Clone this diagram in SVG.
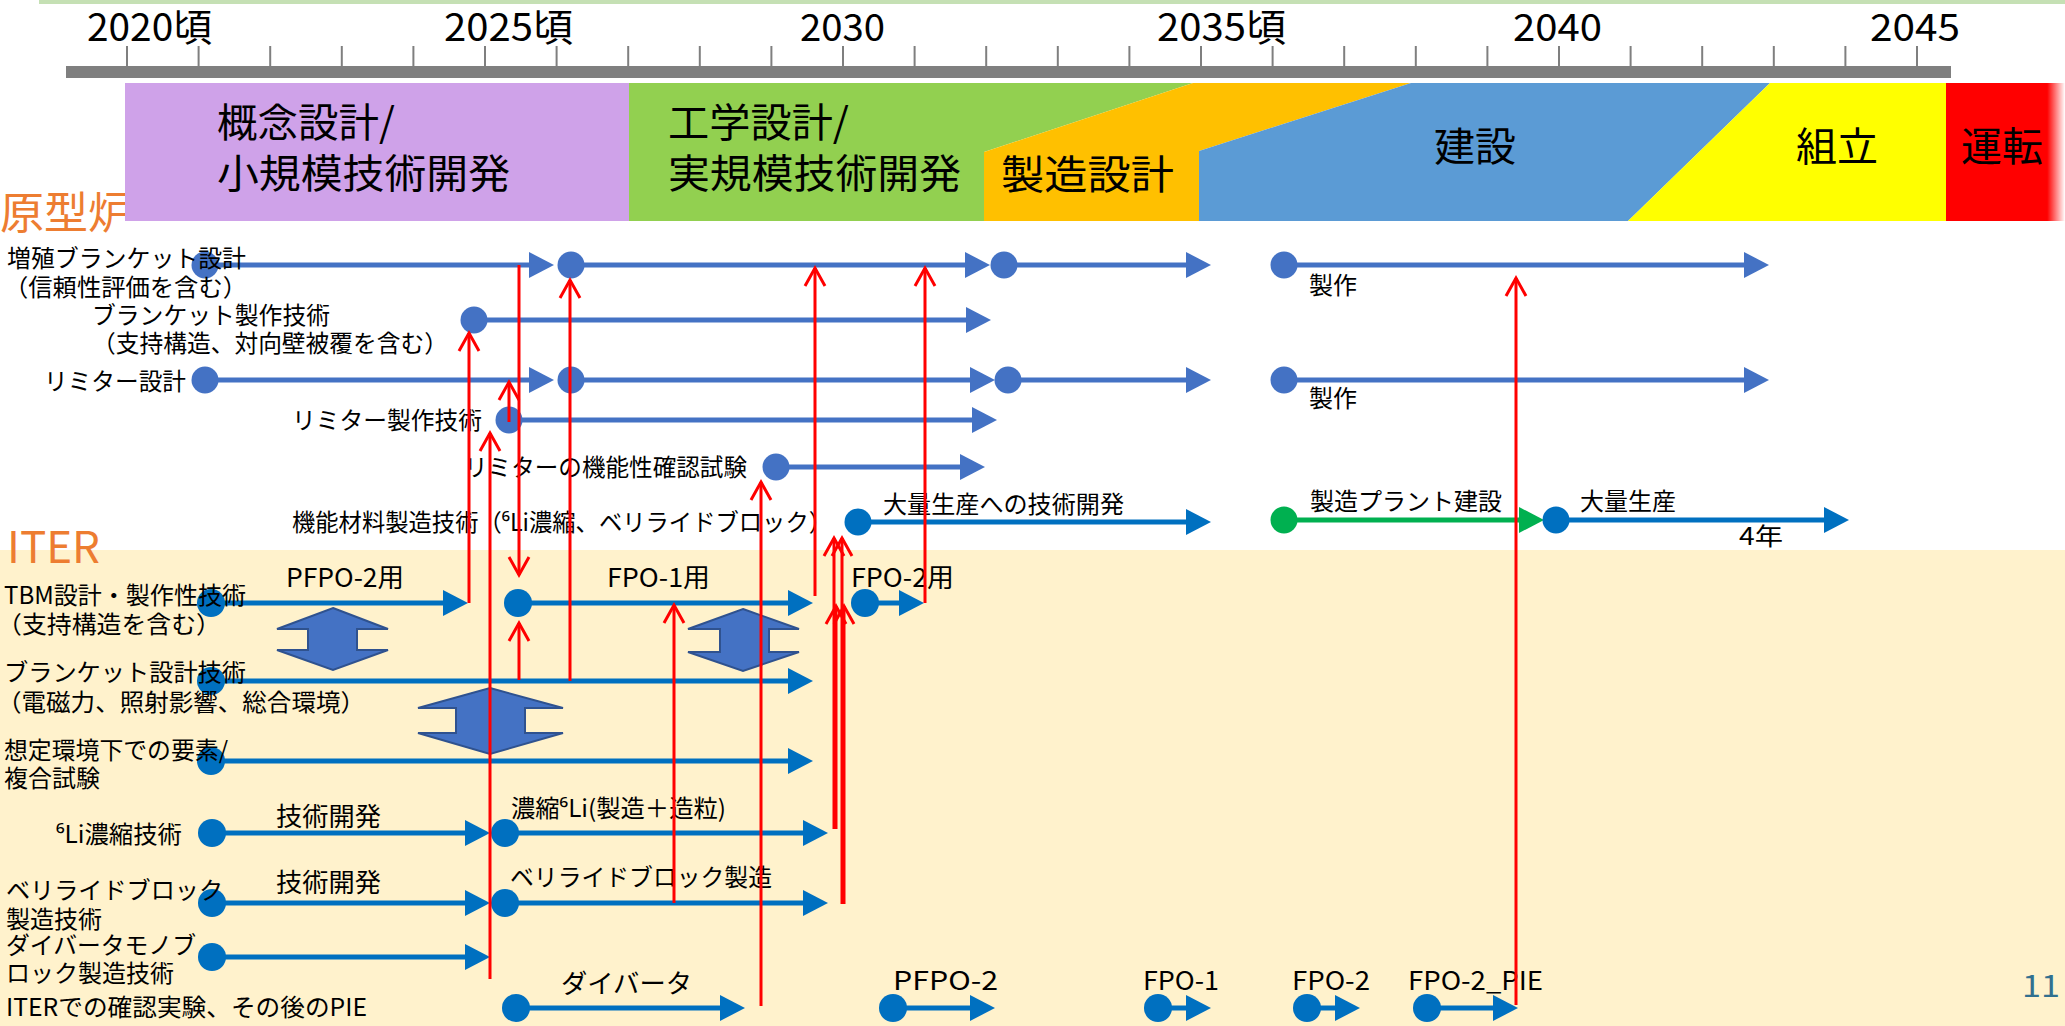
<svg xmlns="http://www.w3.org/2000/svg" width="2065" height="1026" viewBox="0 0 2065 1026">
<style>
text{font-family:"Noto Sans CJK JP","Noto Sans",sans-serif;fill:#000}
.s24{font-size:24px}
.s26{font-size:26px}
.s40{font-size:40px}
.yr{font-size:38px}
.org{fill:#ed7d31;font-size:44px}
.lu{stroke:#4472c4;stroke-width:5;fill:none;marker-end:url(#au)}
.li{stroke:#0070c0;stroke-width:5;fill:none;marker-end:url(#ai)}
.lg{stroke:#00b050;stroke-width:5;fill:none;marker-end:url(#ag)}
.du{fill:#4472c4}
.di{fill:#0070c0}
.dg{fill:#00b050}
.red{stroke:#ff0000;stroke-width:3;fill:none;marker-end:url(#ar)}
.dbl{fill:#4472c4;stroke:#2f528f;stroke-width:2}
.tick{stroke:#7f7f7f;stroke-width:2}
</style>
<defs>
<marker id="au" markerUnits="userSpaceOnUse" viewBox="0 -13 26 26" markerWidth="26" markerHeight="26" refX="0" refY="0" orient="auto"><path d="M0,-13 L25,0 L0,13 z" fill="#4472c4"/></marker>
<marker id="ai" markerUnits="userSpaceOnUse" viewBox="0 -13 26 26" markerWidth="26" markerHeight="26" refX="0" refY="0" orient="auto"><path d="M0,-13 L25,0 L0,13 z" fill="#0070c0"/></marker>
<marker id="ag" markerUnits="userSpaceOnUse" viewBox="0 -13 26 26" markerWidth="26" markerHeight="26" refX="0" refY="0" orient="auto"><path d="M0,-13 L25,0 L0,13 z" fill="#00b050"/></marker>
<marker id="ar" markerUnits="userSpaceOnUse" viewBox="-22 -13 26 26" markerWidth="26" markerHeight="26" refX="0" refY="0" orient="auto"><path d="M-18,-10 L0,0 L-18,10" fill="none" stroke="#ff0000" stroke-width="3"/></marker>
<linearGradient id="redfade" x1="0" x2="1" y1="0" y2="0"><stop offset="0.85" stop-color="#ff0000"/><stop offset="1" stop-color="#ff0000" stop-opacity="0"/></linearGradient>
</defs>

<rect x="0" y="0" width="2065" height="1026" fill="#ffffff"/>
<rect x="0" y="550" width="2065" height="476" fill="#fff2cc"/>
<rect x="39" y="0" width="2026" height="4" fill="#c5e0b4"/>

<g id="timeline">
<rect x="66" y="66" width="1885" height="12" fill="#7f7f7f"/>
<g class="tick">
<line x1="127" y1="46" x2="127" y2="66"/><line x1="198.6" y1="46" x2="198.6" y2="66"/><line x1="270.2" y1="46" x2="270.2" y2="66"/><line x1="341.8" y1="46" x2="341.8" y2="66"/><line x1="413.4" y1="46" x2="413.4" y2="66"/>
<line x1="485" y1="46" x2="485" y2="66"/><line x1="556.6" y1="46" x2="556.6" y2="66"/><line x1="628.2" y1="46" x2="628.2" y2="66"/><line x1="699.8" y1="46" x2="699.8" y2="66"/><line x1="771.4" y1="46" x2="771.4" y2="66"/>
<line x1="843" y1="46" x2="843" y2="66"/><line x1="914.6" y1="46" x2="914.6" y2="66"/><line x1="986.2" y1="46" x2="986.2" y2="66"/><line x1="1057.8" y1="46" x2="1057.8" y2="66"/><line x1="1129.4" y1="46" x2="1129.4" y2="66"/>
<line x1="1201" y1="46" x2="1201" y2="66"/><line x1="1272.6" y1="46" x2="1272.6" y2="66"/><line x1="1344.2" y1="46" x2="1344.2" y2="66"/><line x1="1415.8" y1="46" x2="1415.8" y2="66"/><line x1="1487.4" y1="46" x2="1487.4" y2="66"/>
<line x1="1559" y1="46" x2="1559" y2="66"/><line x1="1630.6" y1="46" x2="1630.6" y2="66"/><line x1="1702.2" y1="46" x2="1702.2" y2="66"/><line x1="1773.8" y1="46" x2="1773.8" y2="66"/><line x1="1845.4" y1="46" x2="1845.4" y2="66"/>
<line x1="1917" y1="46" x2="1917" y2="66"/>
</g>
<text class="yr" x="87" y="41" textLength="125" lengthAdjust="spacingAndGlyphs">2020頃</text>
<text class="yr" x="444" y="41" textLength="129" lengthAdjust="spacingAndGlyphs">2025頃</text>
<text class="yr" x="800" y="41" textLength="85" lengthAdjust="spacingAndGlyphs">2030</text>
<text class="yr" x="1157" y="41" textLength="129" lengthAdjust="spacingAndGlyphs">2035頃</text>
<text class="yr" x="1513" y="41" textLength="89" lengthAdjust="spacingAndGlyphs">2040</text>
<text class="yr" x="1870" y="41" textLength="90" lengthAdjust="spacingAndGlyphs">2045</text>
</g>

<text class="org" x="0" y="229">原型炉</text>

<g id="phases">
<rect x="125" y="83" width="504" height="138" fill="#cfa2e9"/>
<polygon points="629,83 1193,83 984,152 984,221 629,221" fill="#92d050"/>
<polygon points="984,152 1193,83 1411,83 1199,151 1199,221 984,221" fill="#ffc000"/>
<polygon points="1199,151 1411,83 1770,83 1628,221 1199,221" fill="#5b9bd5"/>
<polygon points="1770,83 1946,83 1946,221 1628,221" fill="#ffff00"/>
<rect x="1946" y="83" width="119" height="138" fill="url(#redfade)"/>
<text class="s40" x="217" y="137" textLength="178" lengthAdjust="spacingAndGlyphs">概念設計/</text>
<text class="s40" x="217" y="188" textLength="293" lengthAdjust="spacingAndGlyphs">小規模技術開発</text>
<text class="s40" x="668" y="137" textLength="181" lengthAdjust="spacingAndGlyphs">工学設計/</text>
<text class="s40" x="668" y="188" textLength="293" lengthAdjust="spacingAndGlyphs">実規模技術開発</text>
<text class="s40" x="1001" y="189" textLength="173" lengthAdjust="spacingAndGlyphs">製造設計</text>
<text class="s40" x="1434" y="161" textLength="82" lengthAdjust="spacingAndGlyphs">建設</text>
<text class="s40" x="1796" y="161" textLength="82" lengthAdjust="spacingAndGlyphs">組立</text>
<text class="s40" x="1961" y="161" textLength="82" lengthAdjust="spacingAndGlyphs">運転</text>
</g>

<text class="org" x="7" y="563" textLength="93" lengthAdjust="spacingAndGlyphs">ITER</text>

<g id="row-breeding-blanket-design">
<line class="lu" x1="205" y1="265" x2="529" y2="265"/>
<line class="lu" x1="571" y1="265" x2="965" y2="265"/>
<line class="lu" x1="1004" y1="265" x2="1186" y2="265"/>
<line class="lu" x1="1284" y1="265" x2="1744" y2="265"/>
<circle class="du" cx="205" cy="265" r="13.5"/>
<circle class="du" cx="571" cy="265" r="13.5"/>
<circle class="du" cx="1004" cy="265" r="13.5"/>
<circle class="du" cx="1284" cy="265" r="13.5"/>
<text class="s24" x="7" y="267" textLength="239" lengthAdjust="spacingAndGlyphs">増殖ブランケット設計</text>
<text class="s24" x="4" y="296" textLength="243" lengthAdjust="spacingAndGlyphs">（信頼性評価を含む）</text>
<text class="s24" x="1309" y="294">製作</text>
</g>

<g id="row-blanket-fabrication">
<line class="lu" x1="474" y1="320" x2="966" y2="320"/>
<circle class="du" cx="474" cy="320" r="13.5"/>
<text class="s24" x="92" y="324" textLength="238" lengthAdjust="spacingAndGlyphs">ブランケット製作技術</text>
<text class="s24" x="92" y="352" textLength="356" lengthAdjust="spacingAndGlyphs">（支持構造、対向壁被覆を含む）</text>
</g>

<g id="row-limiter-design">
<line class="lu" x1="205" y1="380" x2="529" y2="380"/>
<line class="lu" x1="571" y1="380" x2="970" y2="380"/>
<line class="lu" x1="1008" y1="380" x2="1186" y2="380"/>
<line class="lu" x1="1284" y1="380" x2="1744" y2="380"/>
<circle class="du" cx="205" cy="380" r="13.5"/>
<circle class="du" cx="571" cy="380" r="13.5"/>
<circle class="du" cx="1008" cy="380" r="13.5"/>
<circle class="du" cx="1284" cy="380" r="13.5"/>
<text class="s24" x="44" y="390" textLength="142" lengthAdjust="spacingAndGlyphs">リミター設計</text>
<text class="s24" x="1309" y="407">製作</text>
</g>

<g id="row-limiter-fabrication">
<line class="lu" x1="509" y1="420" x2="972" y2="420"/>
<circle class="du" cx="509" cy="420" r="13.5"/>
<text class="s24" x="292" y="429" textLength="190" lengthAdjust="spacingAndGlyphs">リミター製作技術</text>
</g>

<g id="row-limiter-test">
<line class="lu" x1="776" y1="467" x2="960" y2="467"/>
<circle class="du" cx="776" cy="467" r="13.5"/>
<text class="s24" x="464" y="476" textLength="283" lengthAdjust="spacingAndGlyphs">リミターの機能性確認試験</text>
</g>

<g id="row-functional-materials">
<line class="li" x1="858" y1="522" x2="1186" y2="522"/>
<line class="lg" x1="1284" y1="520" x2="1519" y2="520"/>
<line class="li" x1="1556" y1="520" x2="1824" y2="520"/>
<circle class="di" cx="858" cy="522" r="13.5"/>
<circle class="dg" cx="1284" cy="520" r="13.5"/>
<circle class="di" cx="1556" cy="520" r="13.5"/>
<text class="s24" x="292" y="531" textLength="540" lengthAdjust="spacingAndGlyphs">機能材料製造技術（⁶Li濃縮、ベリライドブロック）</text>
<text class="s24" x="883" y="513" textLength="241" lengthAdjust="spacingAndGlyphs">大量生産への技術開発</text>
<text class="s24" x="1310" y="510" textLength="192" lengthAdjust="spacingAndGlyphs">製造プラント建設</text>
<text class="s24" x="1580" y="510" textLength="96" lengthAdjust="spacingAndGlyphs">大量生産</text>
<text class="s24" x="1739" y="545" textLength="44" lengthAdjust="spacingAndGlyphs">4年</text>
</g>

<g id="row-tbm">
<line class="li" x1="211" y1="603" x2="443" y2="603"/>
<line class="li" x1="518" y1="603" x2="788" y2="603"/>
<line class="li" x1="865" y1="603" x2="899" y2="603"/>
<circle class="di" cx="211" cy="603" r="14"/>
<circle class="di" cx="518" cy="603" r="14"/>
<circle class="di" cx="865" cy="603" r="14"/>
<text class="s24" x="4" y="604" textLength="242" lengthAdjust="spacingAndGlyphs">TBM設計・製作性技術</text>
<text class="s24" x="-3" y="633" textLength="224" lengthAdjust="spacingAndGlyphs">（支持構造を含む）</text>
<text class="s26" x="286" y="587" textLength="118" lengthAdjust="spacingAndGlyphs">PFPO-2用</text>
<text class="s26" x="607" y="587" textLength="103" lengthAdjust="spacingAndGlyphs">FPO-1用</text>
<text class="s26" x="851" y="587" textLength="103" lengthAdjust="spacingAndGlyphs">FPO-2用</text>
</g>

<g id="row-blanket-design-tech">
<line class="li" x1="211" y1="681" x2="788" y2="681"/>
<circle class="di" cx="211" cy="681" r="14"/>
<text class="s24" x="4" y="681" textLength="242" lengthAdjust="spacingAndGlyphs">ブランケット設計技術</text>
<text class="s24" x="-3" y="711" textLength="368" lengthAdjust="spacingAndGlyphs">（電磁力、照射影響、総合環境）</text>
</g>

<g id="row-element-tests">
<line class="li" x1="211" y1="761" x2="788" y2="761"/>
<circle class="di" cx="211" cy="761" r="14"/>
<text class="s24" x="4" y="759" textLength="224" lengthAdjust="spacingAndGlyphs">想定環境下での要素/</text>
<text class="s24" x="4" y="787">複合試験</text>
</g>

<g id="double-arrows">
<polygon class="dbl" points="333,608 388,629 357,629 357,650 388,650 333,670 277,650 308,650 308,629 277,629"/>
<polygon class="dbl" points="490,688 563,708 525,708 525,733 563,733 490,754 418,733 456,733 456,708 418,708"/>
<polygon class="dbl" points="743,609 799,629 769,629 769,652 799,652 743,671 688,652 720,652 720,629 688,629"/>
</g>

<g id="row-li6">
<line class="li" x1="212" y1="833" x2="465" y2="833"/>
<line class="li" x1="505" y1="833" x2="803" y2="833"/>
<circle class="di" cx="212" cy="833" r="14"/>
<circle class="di" cx="505" cy="833" r="14"/>
<text class="s24" x="56" y="843" textLength="126" lengthAdjust="spacingAndGlyphs">⁶Li濃縮技術</text>
<text class="s26" x="276" y="826" textLength="105" lengthAdjust="spacingAndGlyphs">技術開発</text>
<text class="s24" x="511" y="817" textLength="215" lengthAdjust="spacingAndGlyphs">濃縮⁶Li(製造＋造粒)</text>
</g>

<g id="row-beryllide">
<line class="li" x1="212" y1="903" x2="465" y2="903"/>
<line class="li" x1="505" y1="903" x2="803" y2="903"/>
<circle class="di" cx="212" cy="903" r="14"/>
<circle class="di" cx="505" cy="903" r="14"/>
<text class="s24" x="6" y="899" textLength="217" lengthAdjust="spacingAndGlyphs">ベリライドブロック</text>
<text class="s24" x="6" y="928">製造技術</text>
<text class="s26" x="276" y="892" textLength="105" lengthAdjust="spacingAndGlyphs">技術開発</text>
<text class="s24" x="510" y="886" textLength="262" lengthAdjust="spacingAndGlyphs">ベリライドブロック製造</text>
</g>

<g id="row-divertor-monoblock">
<line class="li" x1="212" y1="957" x2="465" y2="957"/>
<circle class="di" cx="212" cy="957" r="14"/>
<text class="s24" x="6" y="954" textLength="190" lengthAdjust="spacingAndGlyphs">ダイバータモノブ</text>
<text class="s24" x="6" y="982">ロック製造技術</text>
</g>

<g id="row-iter-tests">
<line class="li" x1="516" y1="1008" x2="720" y2="1008"/>
<line class="li" x1="893" y1="1008" x2="970" y2="1008"/>
<line class="li" x1="1158" y1="1008" x2="1186" y2="1008"/>
<line class="li" x1="1307" y1="1008" x2="1335" y2="1008"/>
<line class="li" x1="1427" y1="1008" x2="1493" y2="1008"/>
<circle class="di" cx="516" cy="1008" r="14"/>
<circle class="di" cx="893" cy="1008" r="14"/>
<circle class="di" cx="1158" cy="1008" r="14"/>
<circle class="di" cx="1307" cy="1008" r="14"/>
<circle class="di" cx="1427" cy="1008" r="14"/>
<text class="s24" x="6" y="1016" textLength="361" lengthAdjust="spacingAndGlyphs">ITERでの確認実験、その後のPIE</text>
<text class="s26" x="561" y="993" textLength="131" lengthAdjust="spacingAndGlyphs">ダイバータ</text>
<text class="s26" x="893" y="990" textLength="105" lengthAdjust="spacingAndGlyphs">PFPO-2</text>
<text class="s26" x="1143" y="990" textLength="76" lengthAdjust="spacingAndGlyphs">FPO-1</text>
<text class="s26" x="1292" y="990" textLength="78" lengthAdjust="spacingAndGlyphs">FPO-2</text>
<text class="s26" x="1408" y="990" textLength="135" lengthAdjust="spacingAndGlyphs">FPO-2_PIE</text>
</g>

<g id="connectors">
<line class="red" x1="469" y1="603" x2="469" y2="333"/>
<line class="red" x1="490" y1="979" x2="490" y2="433"/>
<line class="red" x1="519" y1="265" x2="519" y2="575"/>
<line class="red" x1="509" y1="422" x2="509" y2="382"/>
<line class="red" x1="570" y1="681" x2="570" y2="280"/>
<line class="red" x1="519" y1="680" x2="519" y2="623"/>
<line class="red" x1="674" y1="903" x2="674" y2="605"/>
<line class="red" x1="761" y1="1006" x2="761" y2="482"/>
<line class="red" x1="815" y1="596" x2="815" y2="268"/>
<line class="red" x1="925" y1="603" x2="925" y2="268"/>
<line class="red" x1="834" y1="829" x2="834" y2="538"/>
<line class="red" x1="836" y1="829" x2="836" y2="606"/>
<line class="red" x1="842" y1="904" x2="842" y2="538"/>
<line class="red" x1="844" y1="904" x2="844" y2="606"/>
<line class="red" x1="1516" y1="1005" x2="1516" y2="278"/>
</g>

<text x="2022" y="997" style="font-size:30px;fill:#31708f" textLength="38" lengthAdjust="spacingAndGlyphs">11</text>
</svg>
